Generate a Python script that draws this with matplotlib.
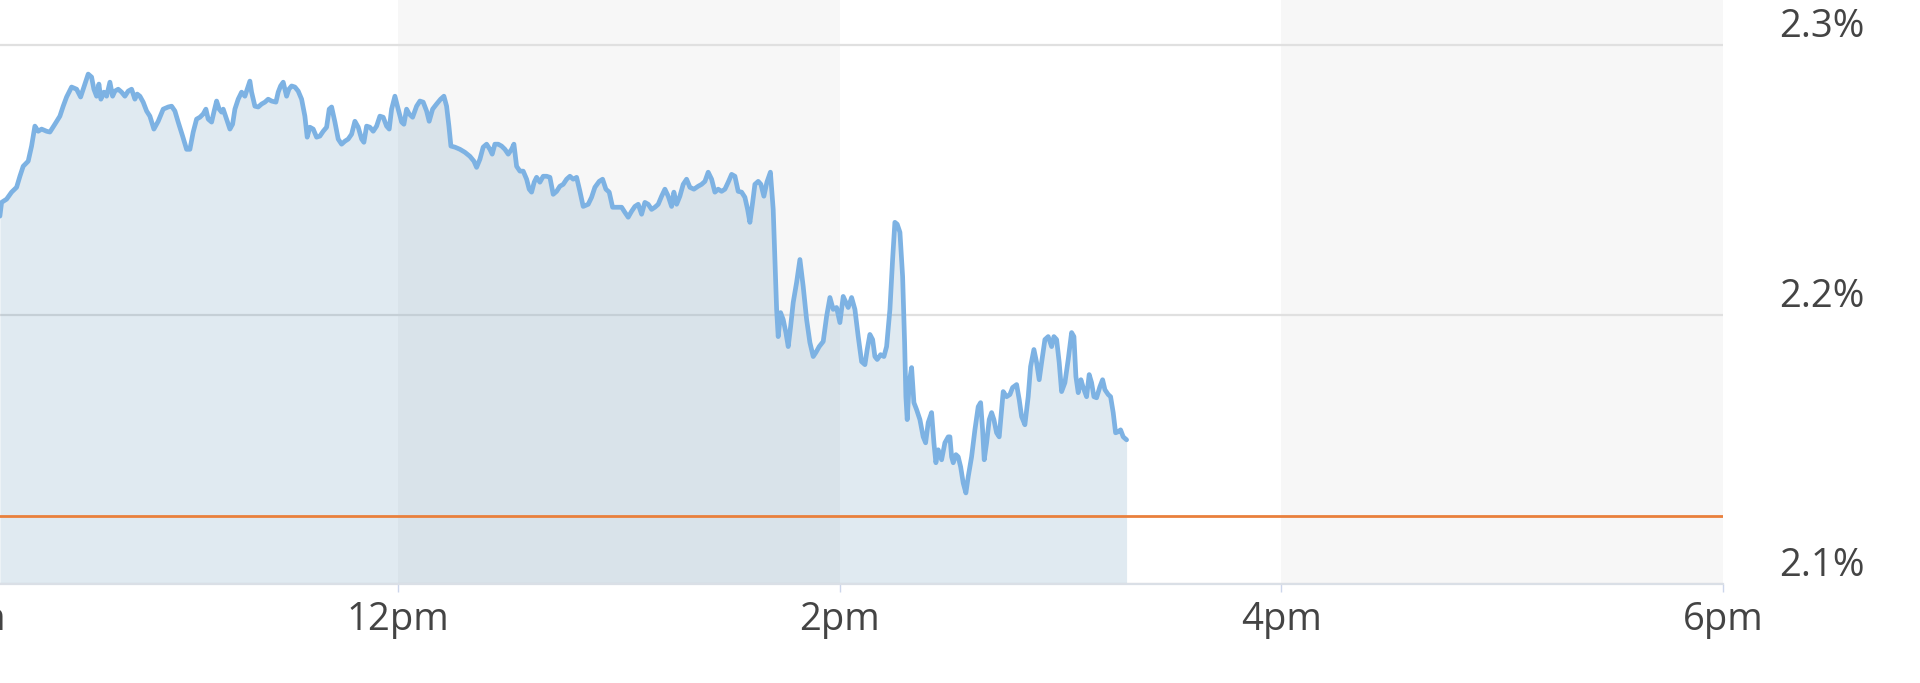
import matplotlib
matplotlib.use("Agg")
import matplotlib.pyplot as plt
from matplotlib.transforms import ScaledTranslation, blended_transform_factory

# ---- data: minutes after 10:00 and yield (%) ----
minutes = [
    11.87, 12.33, 13.69, 15.05, 16.41, 17.31, 18.20, 19.56, 20.48, 21.38,
    22.28, 23.20, 24.56, 25.46, 26.81, 28.17, 29.07, 29.99, 31.35, 32.71,
    33.80, 34.97, 35.86, 36.78, 37.41, 38.14, 38.77, 39.31, 40.13, 40.86,
    41.76, 42.49, 43.12, 44.01, 44.94, 45.83, 46.73, 47.65, 48.55, 49.17,
    49.91, 50.80, 51.73, 52.62, 53.71, 54.88, 56.24, 57.60, 58.52, 59.42,
    60.31, 61.51, 62.59, 63.49,
    64.39, 65.31, 66.21, 67.10, 67.84, 68.46, 69.39, 70.01, 70.75, 71.45,
    72.10, 72.54, 73.46, 74.36, 75.09, 75.72, 76.61, 77.54, 78.43, 79.06,
    79.79, 80.25, 81.15, 82.05, 82.97, 83.87, 84.76, 85.69, 86.86, 87.48,
    88.13, 88.84, 89.30, 89.76, 90.39, 91.12, 92.02, 92.91, 93.84, 94.73,
    95.36, 96.09, 96.99, 97.91, 98.81, 99.71, 100.63, 101.34, 101.99, 102.89,
    103.78, 104.70, 105.60, 106.50, 107.42, 108.32, 109.22, 110.14, 110.76, 111.50,
    112.39, 113.29, 114.21, 115.11,
    116.01, 116.93, 117.64, 118.29, 119.19, 120.08, 121.01, 121.63, 122.36, 123.07,
    124.00, 125.08, 125.98, 126.87, 127.80, 128.50, 129.43, 130.51, 131.60, 132.50,
    133.23, 133.86, 134.40, 135.49, 136.85, 138.20, 139.56, 140.65, 141.38, 142.28,
    143.17, 144.10, 144.99, 145.62, 146.35, 147.25, 148.17, 149.07, 149.97, 150.89,
    151.52, 152.25, 153.15, 154.04, 154.97, 155.67, 156.32, 157.03, 157.68, 158.58,
    159.48, 160.40, 161.30, 162.19, 163.12, 164.01, 164.91, 165.83, 166.73,
    167.63, 168.55, 169.45, 170.34, 171.70, 172.62, 173.52, 174.69, 175.61, 176.51,
    177.41, 178.33, 179.42, 180.78, 181.67, 182.57, 183.49, 184.39, 185.29, 186.21,
    187.10, 188.00, 188.92, 189.82, 190.72, 191.64, 192.54, 193.44, 194.36, 194.98,
    195.72, 196.61, 197.51, 198.43, 199.33, 200.42, 201.59, 202.51, 203.41, 204.30,
    205.23, 206.12, 207.02, 207.94, 208.84, 209.74, 210.66, 211.56, 212.45, 213.38,
    214.27, 215.01, 215.63, 216.37, 216.99, 217.89, 218.62, 219.43, 220.25, 221.20,
    221.96, 222.42, 222.89, 223.32, 223.97, 224.68, 225.41, 226.04, 226.69, 227.40,
    228.32, 229.22, 230.11, 231.04, 231.93, 232.83, 233.56, 234.46, 235.55, 236.47,
    237.37, 238.26, 239.18, 240.08, 240.98, 241.71, 242.34, 243.26, 244.16, 245.06,
    245.98, 246.88, 247.50, 248.23, 248.97, 249.59, 250.22, 251.14, 252.04, 252.77,
    253.67, 254.40, 255.02, 255.65, 256.39, 257.12, 257.66, 258.01, 258.37, 258.91,
    259.56, 260.19, 260.92, 261.82, 262.71, 263.37, 264.07, 264.99, 265.62, 266.16,
    266.79, 267.71, 268.61, 269.51, 269.97,
    270.43, 270.87, 271.60, 272.22, 272.88, 273.58, 274.31, 274.94, 275.86, 276.76,
    277.66, 278.31, 278.85, 279.29, 279.94, 280.65, 281.30, 281.92, 282.65, 283.36,
    284.01, 284.45, 285.37, 286.27, 287.00, 288.09, 288.80, 289.45, 290.34, 291.24,
    291.89, 292.79, 293.52, 294.23, 294.88, 295.78, 296.67, 297.60, 298.22, 298.96,
    299.66, 300.31, 301.21, 302.11, 303.03, 303.66, 304.20, 304.83, 305.56, 306.18,
    307.10, 307.81, 308.46, 309.09, 309.82, 310.72, 311.45, 312.08, 312.98, 313.62,
    314.33, 314.98, 315.69, 316.34, 317.05, 317.97,
]

yield_pct = [
    2.2365, 2.2416, 2.2428, 2.2454, 2.2472, 2.2513, 2.2550, 2.2569, 2.2625, 2.2699,
    2.2680, 2.2688, 2.2680, 2.2677, 2.2706, 2.2736, 2.2773, 2.2807, 2.2844, 2.2836,
    2.2807, 2.2855, 2.2892, 2.2881, 2.2836, 2.2810, 2.2855, 2.2799, 2.2825, 2.2810,
    2.2862, 2.2810, 2.2829, 2.2836, 2.2825, 2.2810, 2.2829, 2.2836, 2.2799, 2.2818,
    2.2810, 2.2788, 2.2755, 2.2736, 2.2688, 2.2717, 2.2762, 2.2770, 2.2773, 2.2755,
    2.2714, 2.2662, 2.2613, 2.2613,
    2.2677, 2.2725, 2.2732, 2.2744, 2.2762, 2.2725, 2.2714, 2.2751, 2.2792, 2.2762,
    2.2751, 2.2762, 2.2725, 2.2688, 2.2706, 2.2762, 2.2799, 2.2825, 2.2810, 2.2836,
    2.2866, 2.2825, 2.2773, 2.2770, 2.2781, 2.2788, 2.2799, 2.2792, 2.2788, 2.2825,
    2.2848, 2.2862, 2.2836, 2.2810, 2.2836, 2.2848, 2.2844, 2.2829, 2.2799, 2.2736,
    2.2658, 2.2695, 2.2688, 2.2658, 2.2662, 2.2680, 2.2695, 2.2762, 2.2770, 2.2714,
    2.2651, 2.2632, 2.2643, 2.2651, 2.2669, 2.2717, 2.2695, 2.2651, 2.2639, 2.2699,
    2.2695, 2.2680, 2.2699, 2.2736,
    2.2732, 2.2699, 2.2688, 2.2762, 2.2810, 2.2762, 2.2714, 2.2706, 2.2762, 2.2744,
    2.2732, 2.2773, 2.2792, 2.2788, 2.2755, 2.2717, 2.2762, 2.2781, 2.2799, 2.2810,
    2.2773, 2.2699, 2.2625, 2.2621, 2.2613, 2.2602, 2.2587, 2.2569, 2.2546, 2.2576,
    2.2621, 2.2632, 2.2613, 2.2595, 2.2632, 2.2632, 2.2625, 2.2613, 2.2595, 2.2613,
    2.2632, 2.2550, 2.2532, 2.2532, 2.2502, 2.2465, 2.2454, 2.2491, 2.2509, 2.2491,
    2.2513, 2.2513, 2.2509, 2.2446, 2.2457, 2.2476, 2.2483, 2.2502, 2.2513,
    2.2502, 2.2509, 2.2457, 2.2401, 2.2409, 2.2435, 2.2472, 2.2494, 2.2502, 2.2465,
    2.2454, 2.2398, 2.2398, 2.2398, 2.2379, 2.2361, 2.2383, 2.2401, 2.2409, 2.2372,
    2.2416, 2.2409, 2.2390, 2.2398, 2.2409, 2.2439, 2.2465, 2.2439, 2.2401, 2.2454,
    2.2409, 2.2439, 2.2483, 2.2502, 2.2472, 2.2465, 2.2476, 2.2483, 2.2494, 2.2528,
    2.2502, 2.2454, 2.2465, 2.2457, 2.2465, 2.2491, 2.2520, 2.2513, 2.2457, 2.2454,
    2.2435, 2.2390, 2.2342, 2.2416, 2.2483, 2.2494, 2.2483, 2.2439, 2.2491, 2.2528,
    2.2390, 2.2204, 2.2019, 2.1918, 2.2007, 2.1981, 2.1933, 2.1881, 2.1955, 2.2045,
    2.2119, 2.2204, 2.2104, 2.1981, 2.1896, 2.1844, 2.1859, 2.1881, 2.1900, 2.1993,
    2.2063, 2.2019, 2.2026, 2.1970, 2.2067, 2.2045, 2.2026, 2.2063, 2.2019, 2.1918,
    2.1825, 2.1814, 2.1870, 2.1926, 2.1907, 2.1844, 2.1833, 2.1851, 2.1844, 2.1881,
    2.2019, 2.2204, 2.2342, 2.2335, 2.2305, 2.2141, 2.1896, 2.1695, 2.1610, 2.1747,
    2.1803, 2.1673, 2.1647, 2.1610, 2.1546, 2.1524, 2.1599, 2.1636, 2.1524, 2.1450,
    2.1498, 2.1461, 2.1524, 2.1546, 2.1546,
    2.1472, 2.1450, 2.1480, 2.1472, 2.1435, 2.1375, 2.1338, 2.1398, 2.1472, 2.1572,
    2.1658, 2.1673, 2.1572, 2.1461, 2.1524, 2.1610, 2.1636, 2.1610, 2.1561, 2.1546,
    2.1647, 2.1714, 2.1695, 2.1703, 2.1729, 2.1740, 2.1684, 2.1621, 2.1591, 2.1695,
    2.1807, 2.1870, 2.1822, 2.1758, 2.1822, 2.1907, 2.1918, 2.1881, 2.1918, 2.1907,
    2.1822, 2.1714, 2.1747, 2.1833, 2.1933, 2.1918, 2.1770, 2.1710, 2.1758, 2.1729,
    2.1695, 2.1777, 2.1747, 2.1695, 2.1691, 2.1732, 2.1758, 2.1721, 2.1703, 2.1695,
    2.1636, 2.1561, 2.1565, 2.1572, 2.1546, 2.1535,
]

prev_close = 2.1253

x_tick_pos = [0, 120, 240, 360, 480]
x_tick_labels = ["10am", "12pm", "2pm", "4pm", "6pm"]
y_ticks = [2.1, 2.2, 2.3]
y_tick_labels = ["2.1%", "2.2%", "2.3%"]
shade_bands = [(120, 240), (360, 480)]
x_range = (11.9, 480)
y_range = (2.1, 2.3167)

# ---- style ----
FONT = ["Open Sans", "DejaVu Sans"]
LABEL_COLOR = "#444444"
FS = 27.5

fig = plt.figure(figsize=(19.2, 6.83), dpi=100)
fig.patch.set_facecolor("white")
ax = fig.add_axes([0.0, 99 / 683, 1723 / 1920, 584 / 683])
ax.set_facecolor("white")
ax.set_xlim(*x_range)
ax.set_ylim(*y_range)

for a, b in shade_bands:
    ax.axvspan(a, b, color="#f7f7f7", lw=0, zorder=0)

ax.set_yticks(y_ticks)
ax.grid(axis="y", color="#e0e0e0", lw=1.6, zorder=1)
ax.tick_params(axis="y", left=False, labelleft=False, right=False, labelright=False)

ax.fill_between(minutes, yield_pct, y_range[0], color="#0f5f97", alpha=0.125,
                lw=0, zorder=2)
ax.plot(minutes, yield_pct, color="#7db2e3", lw=3.4, zorder=4,
        solid_joinstyle="round", solid_capstyle="round")
ax.axhline(prev_close, color="#e9803c", lw=2.0, zorder=3)

for s in ["top", "right", "left"]:
    ax.spines[s].set_visible(False)
ax.spines["bottom"].set_color("#dadfe6")
ax.spines["bottom"].set_linewidth(1.6)
ax.spines["bottom"].set_zorder(5)

ax.set_xticks([p for p in x_tick_pos if x_range[0] <= p <= x_range[1]])
ax.tick_params(axis="x", length=5.8, width=1.0, color="#ccd6eb",
               labelbottom=False)

xtrans = blended_transform_factory(ax.transData, ax.transAxes) + \
    ScaledTranslation(0, -46 / 100, fig.dpi_scale_trans)
for p, lbl in zip(x_tick_pos, x_tick_labels):
    ax.text(p, 0, lbl, transform=xtrans, ha="center", va="baseline",
            fontsize=FS, color=LABEL_COLOR, family=FONT, clip_on=False)

ytrans = blended_transform_factory(ax.transAxes, ax.transData) + \
    ScaledTranslation(56 / 100, 8 / 100, fig.dpi_scale_trans)
for v, lbl in zip(y_ticks, y_tick_labels):
    ax.text(1.0, v, lbl, transform=ytrans, ha="left", va="baseline",
            fontsize=FS, color=LABEL_COLOR, family=FONT, clip_on=False)

fig.savefig("out.png", dpi=100)
